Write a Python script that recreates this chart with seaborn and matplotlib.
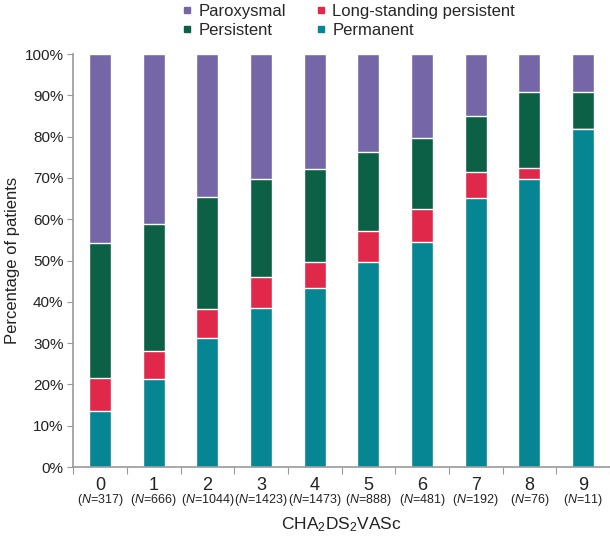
import numpy as np
import pandas as pd
import matplotlib
matplotlib.use("Agg")
import matplotlib.pyplot as plt
from matplotlib.lines import Line2D
import seaborn as sns

# ---- data (percent of patients per CHA2DS2VASc score) ----------------------
scores = ["0", "1", "2", "3", "4", "5", "6", "7", "8", "9"]
n_patients = [317, 666, 1044, 1423, 1473, 888, 481, 192, 76, 11]
permanent = [13.6, 21.2, 31.3, 38.4, 43.3, 49.6, 54.6, 65.1, 69.7, 81.8]
long_standing = [7.9, 6.9, 6.9, 7.7, 6.4, 7.5, 7.8, 6.3, 2.7, 0.0]
persistent = [32.8, 30.7, 27.2, 23.6, 22.5, 19.2, 17.4, 13.5, 18.5, 9.1]
paroxysmal = [100 - a - b - c for a, b, c in zip(permanent, long_standing, persistent)]

colors = {
    "Paroxysmal": "#7566A8",
    "Long-standing persistent": "#E0284A",
    "Persistent": "#0B6046",
    "Permanent": "#068592",
}

sns.set_theme(style="white")
plt.rcParams["font.family"] = ["Liberation Sans", "DejaVu Sans"]
plt.rcParams["mathtext.fontset"] = "custom"
plt.rcParams["mathtext.rm"] = "Liberation Sans"
plt.rcParams["mathtext.it"] = "Liberation Sans:italic"

df = pd.DataFrame({"score": scores, "Permanent": permanent,
                   "Long-standing persistent": long_standing,
                   "Persistent": persistent, "Paroxysmal": paroxysmal})
# cumulative tops, drawn from the back to the front
df["top_per"] = df["Permanent"]
df["top_lsp"] = df["top_per"] + df["Long-standing persistent"]
df["top_pers"] = df["top_lsp"] + df["Persistent"]
df["top_par"] = df["top_pers"] + df["Paroxysmal"]

fig = plt.figure(figsize=(6.10, 5.44), dpi=100)
ax = fig.add_axes([0.12, 0.1415, 0.88, 0.759])

for col, name in [("top_par", "Paroxysmal"), ("top_pers", "Persistent"),
                  ("top_lsp", "Long-standing persistent"), ("top_per", "Permanent")]:
    sns.barplot(data=df, x="score", y=col, color=colors[name], width=0.41,
                saturation=1, ax=ax, order=scores)

ax.set_xlim(-0.5, 9.5)
ax.set_ylim(0, 100)
ax.set_yticks(np.arange(0, 101, 10))
ax.set_yticklabels([f"{v}%" for v in range(0, 101, 10)], fontsize=11, color="#222222")
ax.tick_params(axis="y", length=4, width=0.8, color="#999999", pad=3, left=True)

# category labels + N underneath, ticks between bars
ax.set_xticks(range(len(scores)))
ax.set_xticklabels(scores, fontsize=13, color="#222222")
ax.tick_params(axis="x", length=0, pad=7)
ax.set_xticks(np.arange(-0.5, 10, 1), minor=True)
ax.tick_params(axis="x", which="minor", length=5, width=0.8, color="#999999", bottom=True)
for i, n in enumerate(n_patients):
    ax.text(i, -8.0, rf"($\mathit{{N}}$={n})", ha="center", va="center",
            fontsize=9, color="#222222", clip_on=False)

ax.set_xlabel(r"CHA$_2$DS$_2$VASc", fontsize=12.5, color="#222222")
ax.xaxis.set_label_coords(0.5, -0.14)
ax.xaxis.label.set_va("center")
ax.set_ylabel("Percentage of patients", fontsize=12, color="#222222")
ax.yaxis.set_label_coords(-0.113, 0.5)
ax.yaxis.label.set_va("center")

sns.despine(ax=ax)
for side in ["left", "bottom"]:
    ax.spines[side].set_color("#999999")
    ax.spines[side].set_linewidth(1.2)

handles = [Line2D([], [], marker="s", linestyle="", markersize=5,
                  color=colors[k], label=k)
           for k in ["Paroxysmal", "Persistent", "Long-standing persistent", "Permanent"]]
fig.legend(handles=handles, ncol=2, loc="upper center", bbox_to_anchor=(0.567, 1.02),
           frameon=False, fontsize=12, handletextpad=0.1, columnspacing=1.5,
           labelspacing=0.25, handlelength=1.2)

fig.savefig("out.png", dpi=100)
